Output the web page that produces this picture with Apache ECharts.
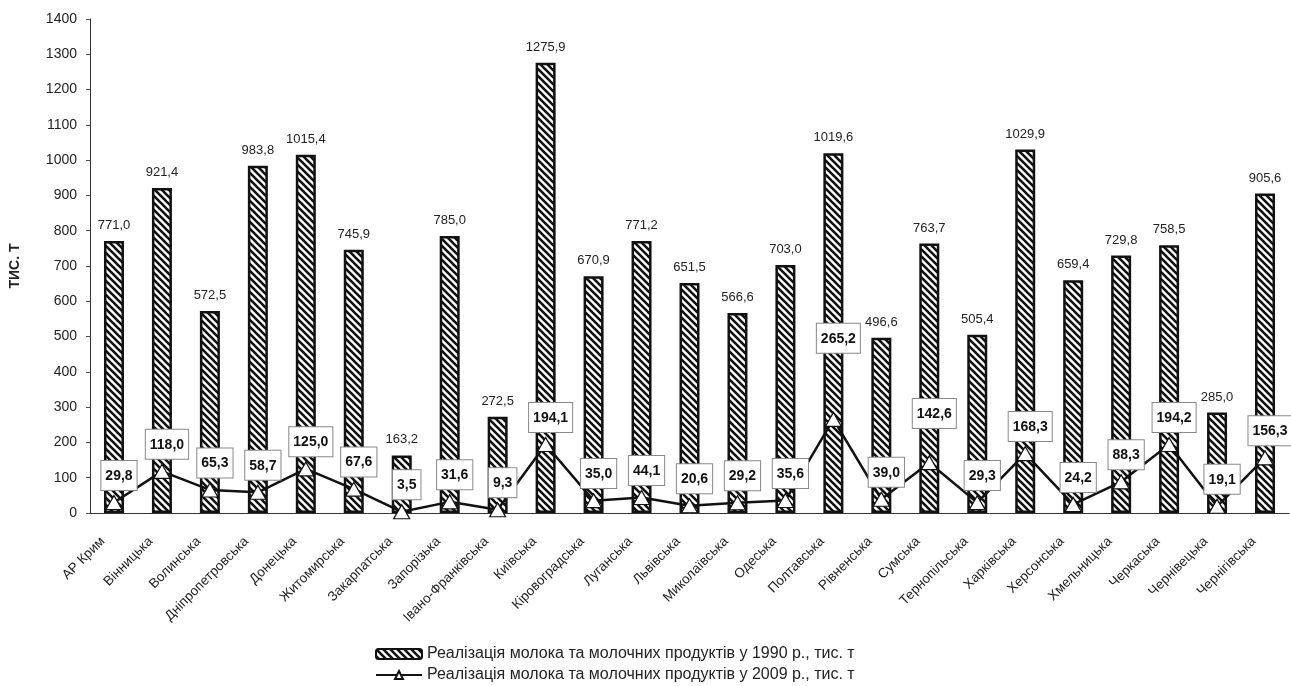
<!DOCTYPE html>
<html><head><meta charset="utf-8">
<script src="https://cdn.jsdelivr.net/npm/echarts@6/dist/echarts.min.js"></script>
<style>html,body{margin:0;padding:0;background:#fff}#c{width:1291px;height:686px}</style>
</head><body><div id="c"></div>
<script>
const categories = ['АР Крим','Вінницька','Волинська','Дніпропетровська','Донецька','Житомирська','Закарпатська','Запорізька','Івано-Франківська','Київська','Кіровоградська','Луганська','Львівська','Миколаївська','Одеська','Полтавська','Рівненська','Сумська','Тернопільська','Харківська','Херсонська','Хмельницька','Черкаська','Чернівецька','Чернігівська'];
const values1990 = [771.0,921.4,572.5,983.8,1015.4,745.9,163.2,785.0,272.5,1275.9,670.9,771.2,651.5,566.6,703.0,1019.6,496.6,763.7,505.4,1029.9,659.4,729.8,758.5,285.0,905.6];
const values2009 = [29.8,118.0,65.3,58.7,125.0,67.6,3.5,31.6,9.3,194.1,35.0,44.1,20.6,29.2,35.6,265.2,39.0,142.6,29.3,168.3,24.2,88.3,194.2,19.1,156.3];
const name1990 = 'Реалізація молока та молочних продуктів у 1990 р., тис. т';
const name2009 = 'Реалізація молока та молочних продуктів у 2009 р., тис. т';
const yTitle = 'ТИС. Т';

// extra upward lift (px) of a few hand-placed value boxes in the original
const labelLift = {'Полтавська': 54, 'Сумська': 22};

function hatch(){
  const s = 7;
  const c = document.createElement('canvas');
  c.width = s; c.height = s;
  const g = c.getContext('2d');
  g.fillStyle = '#fff'; g.fillRect(0,0,s,s);
  g.strokeStyle = '#111'; g.lineWidth = 2.6;
  g.beginPath();
  g.moveTo(-1,-1); g.lineTo(s+1,s+1);
  g.moveTo(-s-1,-1); g.lineTo(1,s+1);
  g.moveTo(s-1,-1); g.lineTo(2*s+1,s+1);
  g.stroke();
  return c;
}
const fmt = v => v.toFixed(1).replace('.', ',');
const FONT = 'Liberation Sans, Arial, sans-serif';

const lineData = values2009.map((v, i) => {
  const lift = labelLift[categories[i]] || 0;
  return lift ? {value: v, label: {offset: [5, -lift]}} : v;
});

const chart = echarts.init(document.getElementById('c'));
chart.setOption({
  animation: false,
  textStyle: {fontFamily: FONT},
  grid: {left: 87, right: 2, top: 19, bottom: 173},
  legend: {
    orient: 'vertical', left: 370, top: 641, height: 46, itemGap: 5, itemWidth: 46, itemHeight: 10,
    textStyle: {fontSize: 16, color: '#222', fontFamily: FONT},
    data: [name1990, name2009]
  },
  xAxis: {
    type: 'category', data: categories,
    axisLine: {lineStyle: {color: '#333', width: 1}},
    axisTick: {length: 5, lineStyle: {color: '#555'}},
    axisLabel: {rotate: 45, fontSize: 13.5, color: '#222', interval: 0, margin: 15, padding: [0, 16, 0, 0]}
  },
  yAxis: {
    type: 'value', min: 0, max: 1400, interval: 100,
    name: yTitle, nameLocation: 'middle', nameGap: 68, nameRotate: 90,
    nameTextStyle: {fontSize: 14, fontWeight: 'bold', color: '#222'},
    axisLine: {show: true, lineStyle: {color: '#333'}},
    axisTick: {show: true, length: 4, lineStyle: {color: '#555'}},
    splitLine: {show: false},
    axisLabel: {fontSize: 14, color: '#222', margin: 13, formatter: v => String(v)}
  },
  series: [
    {
      name: name1990, type: 'bar', data: values1990, barWidth: 20,
      itemStyle: {color: {image: hatch(), repeat: 'repeat'}, borderColor: '#111', borderWidth: 2.5},
      label: {show: true, position: 'top', distance: 9, fontSize: 13, color: '#222', formatter: p => fmt(p.value)}
    },
    {
      name: name2009, type: 'line', data: lineData, z: 5,
      symbol: 'triangle', symbolSize: [16, 14],
      lineStyle: {color: '#111', width: 2.5},
      itemStyle: {color: '#fff', borderColor: '#111', borderWidth: 1.2},
      label: {
        show: true, position: 'top', distance: 5, offset: [5, 0],
        fontSize: 14, fontWeight: 'bold', color: '#111',
        backgroundColor: '#fff', borderColor: '#888', borderWidth: 1,
        padding: [8, 4, 7, 4],
        formatter: p => fmt(p.value)
      }
    }
  ]
});
</script></body></html>
